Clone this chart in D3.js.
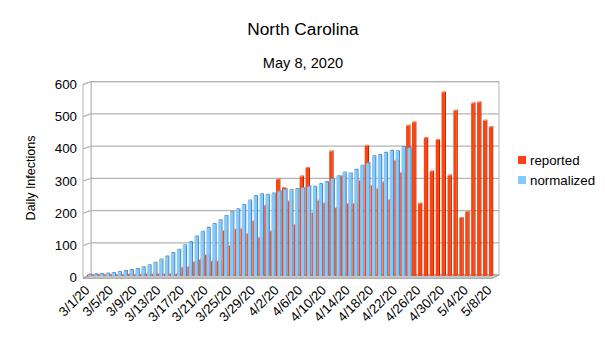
<!DOCTYPE html>
<html><head><meta charset="utf-8">
<script src="https://cdn.jsdelivr.net/npm/d3@7"></script>
<style>body{margin:0;background:#fff}svg{display:block;font-family:"Liberation Sans",Arial,sans-serif}</style>
</head><body><svg id="c" width="605" height="340"></svg>
<script>
const title = "North Carolina";
const subtitle = "May 8, 2020";
const yTitle = "Daily Infections";
const seriesNames = ["reported", "normalized"];
const dates = ["3/1/20","3/2/20","3/3/20","3/4/20","3/5/20","3/6/20","3/7/20","3/8/20","3/9/20","3/10/20",
"3/11/20","3/12/20","3/13/20","3/14/20","3/15/20","3/16/20","3/17/20","3/18/20","3/19/20","3/20/20",
"3/21/20","3/22/20","3/23/20","3/24/20","3/25/20","3/26/20","3/27/20","3/28/20","3/29/20","3/30/20",
"3/31/20","4/1/20","4/2/20","4/3/20","4/4/20","4/5/20","4/6/20","4/7/20","4/8/20","4/9/20",
"4/10/20","4/11/20","4/12/20","4/13/20","4/14/20","4/15/20","4/16/20","4/17/20","4/18/20","4/19/20",
"4/20/20","4/21/20","4/22/20","4/23/20","4/24/20","4/25/20","4/26/20","4/27/20","4/28/20","4/29/20",
"4/30/20","5/1/20","5/2/20","5/3/20","5/4/20","5/5/20","5/6/20","5/7/20","5/8/20"];
const reported = [0,0,1,0,1,0,1,3,1,2,
3,2,3,3,3,3,23,25,40,48,
62,43,43,137,90,142,144,127,167,116,
216,136,297,270,229,156,306,332,193,231,
223,384,208,308,221,221,293,401,277,267,
288,233,355,318,464,474,222,425,322,419,
567,309,510,177,196,533,536,479,459];
const normalized = [1,2,3,4,6,9,12,15,18,24,
30,38,48,57,68,78,92,102,119,134,
146,158,170,183,196,204,217,231,245,250,
249,253,260,266,263,267,270,275,274,282,
288,298,306,318,315,326,339,347,368,372,
379,385,384,397,394];
const yTicks = [0,100,200,300,400,500,600];
const xTickEvery = 4;

const svg = d3.select("#c");
const colors = {reported:"#ff420e", normalized:"#83caff"};
const DX = 6.5, DY = -2.7; // depth offset (front -> back)

const x = d3.scaleBand().domain(dates).range([84.5, 492.5]).padding(0);
const y = d3.scaleLinear().domain([0, 600]).range([275, 81.7]);
const bx0 = x.range()[0] + DX, bx1 = x.range()[1] + DX;
const by0 = y(0), by1 = y(600);

// titles
svg.append("text").attr("x", 303).attr("y", 35).attr("text-anchor","middle")
  .attr("font-size", 17.3).attr("fill","#000").text(title);
svg.append("text").attr("x", 303).attr("y", 68).attr("text-anchor","middle")
  .attr("font-size", 14.6).attr("fill","#000").text(subtitle);

// back wall
svg.append("rect").attr("x", bx0).attr("y", by1).attr("width", bx1-bx0).attr("height", by0-by1)
  .attr("fill","#fff").attr("stroke","#b3b3b3").attr("stroke-width",1);
// left wall
const lw = [[bx0-DX-1.5, by1-DY],[bx0, by1],[bx0, by0],[bx0-DX-1.5, by0-DY]];
svg.append("polygon").attr("points", lw.map(p=>p.join(",")).join(" "))
  .attr("fill","#fff").attr("stroke","#b3b3b3").attr("stroke-width",1);
// gridlines
const g = svg.append("g");
yTicks.forEach(v => {
  g.append("line").attr("x1", bx0).attr("x2", bx1).attr("y1", y(v)).attr("y2", y(v))
    .attr("stroke","#b3b3b3").attr("stroke-width",1.2);
  g.append("line").attr("x1", bx0-DX-1.5).attr("x2", bx0).attr("y1", y(v)-DY).attr("y2", y(v))
    .attr("stroke","#b3b3b3").attr("stroke-width",1.2);
});
// floor
const fl = [[bx0, by0],[bx1, by0],[bx1-DX, by0-DY+0.6],[bx0-DX-1.5, by0-DY+0.6]];
svg.append("polygon").attr("points", fl.map(p=>p.join(",")).join(" "))
  .attr("fill","#c6c6c6").attr("stroke","#a0a0a0").attr("stroke-width",1);

// y tick labels
svg.append("g").selectAll("text").data(yTicks).join("text")
  .attr("x", 77).attr("y", d => y(d) - DY).attr("dy","0.35em").attr("text-anchor","end")
  .attr("font-size", 13.3).attr("fill","#000").text(d => d);

// y title
svg.append("text").attr("transform","translate(35,178) rotate(-90)").attr("text-anchor","middle")
  .attr("font-size", 12.5).attr("fill","#000").text(yTitle);

// 3D bar drawing
function bar3d(sel, x0, w, top, bottom, front, side, topc) {
  const d = 1.1;
  sel.append("rect").attr("x", x0).attr("y", top).attr("width", w).attr("height", Math.max(0, bottom-top)).attr("fill", front);
  sel.append("polygon").attr("points", `${x0+w},${top} ${x0+w+d},${top-d} ${x0+w+d},${bottom-d} ${x0+w},${bottom}`).attr("fill", side);
  sel.append("polygon").attr("points", `${x0},${top} ${x0+d},${top-d} ${x0+w+d},${top-d} ${x0+w},${top}`).attr("fill", topc);
}
const bars = svg.append("g");
dates.forEach((dt, i) => {
  const cx = x(dt);
  const base = y(0) + 1;
  if (reported[i] != null) {
    bar3d(bars, cx + 2.3, 3.3, y(reported[i]), base, colors.reported, "#b32a05", "#ff7a50");
  }
  if (normalized[i] != null) {
    bar3d(bars, cx + 3.6, 3.3, y(normalized[i]), base, colors.normalized, "#4f86b8", "#5f95c6");
  }
});

// x tick labels
svg.append("g").selectAll("text").data(dates.filter((d,i)=>i % xTickEvery === 0)).join("text")
  .attr("transform", d => `translate(${x(d)+x.bandwidth()/2+3},${291}) rotate(-45)`)
  .attr("text-anchor","end").attr("font-size", 13.3).attr("fill","#000").text(d => d);

// legend
const lg = svg.append("g");
seriesNames.forEach((s, i) => {
  lg.append("rect").attr("x", 518).attr("y", 156 + i*20).attr("width", 8).attr("height", 8).attr("fill", colors[s]);
  lg.append("text").attr("x", 530).attr("y", 160 + i*20).attr("dy","0.35em").attr("font-size", 13.3).attr("fill","#000").text(s);
});
</script></body></html>
